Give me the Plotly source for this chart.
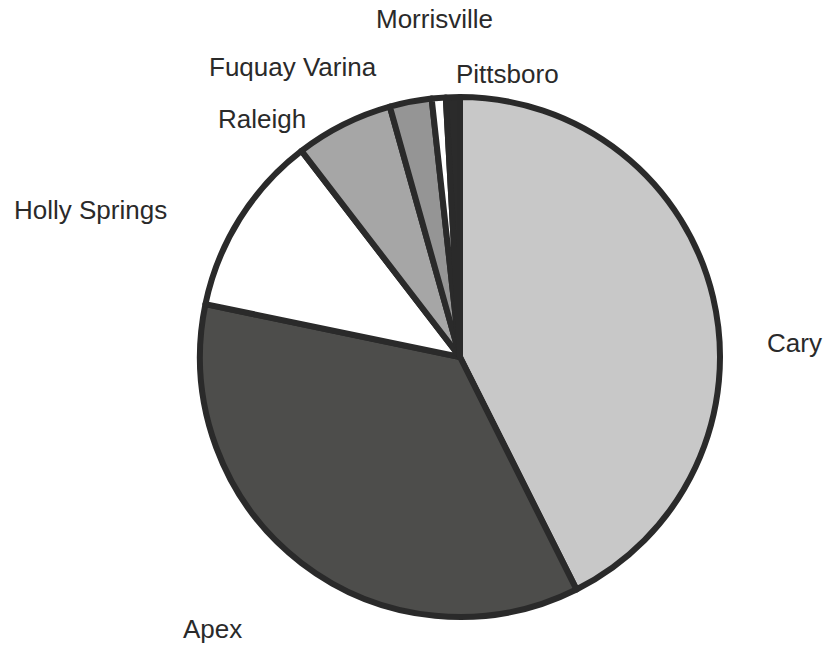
import plotly.graph_objects as go

# Data
cities = ["Cary", "Apex", "Holly Springs", "Raleigh", "Fuquay Varina", "Morrisville", "Pittsboro"]
counts = [49, 41, 13, 7, 3, 1, 1]
slice_colors = ["#c8c8c8", "#4d4d4b", "#ffffff", "#a6a6a6", "#959595", "#ffffff", "#2b2b2b"]

# Label placement (pixel positions in the 830x646 window)
label_px = {
    "Cary": (794, 343),
    "Apex": (212, 629),
    "Holly Springs": (90, 210),
    "Raleigh": (262, 119),
    "Fuquay Varina": (293, 67),
    "Morrisville": (434, 19),
    "Pittsboro": (507, 74),
}

W, H = 830, 646
cx, cy, r = 460, 357, 260

fig = go.Figure(go.Pie(
    labels=cities,
    values=counts,
    sort=False,
    direction="clockwise",
    rotation=0,
    textinfo="none",
    hoverinfo="label+value",
    marker=dict(colors=slice_colors, line=dict(color="#2a2a2a", width=6)),
    domain=dict(x=[(cx - r) / W, (cx + r) / W], y=[1 - (cy + r) / H, 1 - (cy - r) / H]),
    showlegend=False,
))

annotations = []
for name in cities:
    px, py = label_px[name]
    annotations.append(dict(
        x=px / W, y=1 - py / H, xref="paper", yref="paper",
        text=name, showarrow=False, xanchor="center", yanchor="middle",
        font=dict(family="Liberation Sans, Arial, sans-serif", size=26, color="#2a2a2a"),
    ))

fig.update_layout(
    width=W, height=H,
    margin=dict(l=0, r=0, t=0, b=0),
    paper_bgcolor="white",
    plot_bgcolor="white",
    annotations=annotations,
)

fig.write_html(
    "out.html",
    config={"displayModeBar": False},
    post_script="document.body.style.margin='0';document.body.style.overflow='hidden';",
)
